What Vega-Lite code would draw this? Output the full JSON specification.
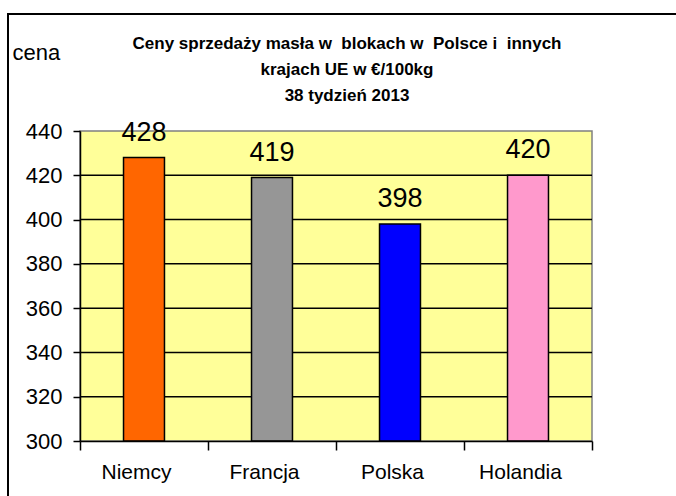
{
  "$schema": "https://vega.github.io/schema/vega-lite/v6.json",
  "autosize": "none",
  "width": 670,
  "height": 484,
  "padding": {"left": 8, "top": 14, "right": -2, "bottom": -2},
  "background": "white",
  "config": {
    "view": {"stroke": "black", "strokeWidth": 2, "fill": "white"},
    "font": "Liberation Sans"
  },
  "title": {
    "text": ["Ceny sprzedaży masła w\u00a0 blokach w\u00a0 Polsce i\u00a0 innych", "krajach UE w €/100kg", "38 tydzień 2013"],
    "anchor": "middle",
    "frame": "group",
    "font": "Liberation Sans",
    "fontSize": 17,
    "fontWeight": "bold",
    "color": "black",
    "lineHeight": 26,
    "offset": -91,
    "dx": 4
  },
  "data": {
    "values": [
      {"country": "Niemcy", "value": 428},
      {"country": "Francja", "value": 419},
      {"country": "Polska", "value": 398},
      {"country": "Holandia", "value": 420}
    ]
  },
  "layer": [
    {
      "data": {"values": [{"panel": "plot"}]},
      "mark": {"type": "rect", "fill": "#FFFF99", "stroke": "#808080", "strokeWidth": 1.5},
      "encoding": {
        "x": {"datum": "Niemcy", "type": "nominal", "bandPosition": 0},
        "x2": {"datum": "Holandia", "bandPosition": 1},
        "y": {"datum": 300, "type": "quantitative"},
        "y2": {"datum": 440}
      }
    },
    {
      "data": {"values": [{"grid": 320}, {"grid": 340}, {"grid": 360}, {"grid": 380}, {"grid": 400}, {"grid": 420}]},
      "mark": {"type": "rule", "color": "black", "strokeWidth": 1.5},
      "encoding": {
        "y": {"field": "grid", "type": "quantitative"},
        "x": {"datum": "Niemcy", "type": "nominal", "bandPosition": 0},
        "x2": {"datum": "Holandia", "bandPosition": 1}
      }
    },
    {
      "mark": {"type": "bar", "width": {"band": 0.32}, "stroke": "black", "strokeWidth": 1.5},
      "encoding": {
        "x": {
          "field": "country",
          "type": "nominal",
          "scale": {"domain": ["Niemcy", "Francja", "Polska", "Holandia"], "range": [72, 584], "paddingInner": 0, "paddingOuter": 0},
          "axis": {
            "orient": "bottom",
            "offset": -57,
            "tickBand": "extent",
            "tickSize": 9,
            "tickWidth": 1.5,
            "tickColor": "black",
            "domainColor": "black",
            "domainWidth": 1.5,
            "labelFont": "Liberation Sans",
            "labelFontSize": 21,
            "labelColor": "black",
            "labelPadding": 22,
            "labelAngle": 0,
            "labelAlign": "center",
            "labelOffset": -8,
            "title": null,
            "grid": false,
            "zindex": 1
          }
        },
        "y": {
          "field": "value",
          "type": "quantitative",
          "scale": {"domain": [300, 440], "range": [427, 117], "nice": false, "zero": false},
          "axis": {
            "orient": "left",
            "offset": -72,
            "values": [300, 320, 340, 360, 380, 400, 420, 440],
            "tickSize": 7,
            "tickWidth": 1.5,
            "tickColor": "black",
            "domainColor": "black",
            "domainWidth": 1.5,
            "labelFont": "Liberation Sans",
            "labelFontSize": 22,
            "labelColor": "black",
            "labelPadding": 11,
            "grid": false,
            "title": "cena",
            "titleAngle": 0,
            "titleFont": "Liberation Sans",
            "titleFontSize": 22,
            "titleFontWeight": "normal",
            "titleColor": "black",
            "titleAlign": "left",
            "titleBaseline": "alphabetic",
            "titleX": -68,
            "titleY": 45,
            "zindex": 1
          }
        },
        "y2": {"datum": 300},
        "color": {
          "field": "country",
          "type": "nominal",
          "scale": {"domain": ["Niemcy", "Francja", "Polska", "Holandia"], "range": ["#FF6600", "#969696", "#0000FF", "#FF99CC"]},
          "legend": null
        }
      }
    },
    {
      "mark": {"type": "text", "font": "Liberation Sans", "fontSize": 27, "color": "black", "baseline": "alphabetic", "dy": -17},
      "encoding": {
        "x": {"field": "country", "type": "nominal"},
        "y": {"field": "value", "type": "quantitative"},
        "text": {"field": "value", "type": "quantitative"}
      }
    }
  ]
}
